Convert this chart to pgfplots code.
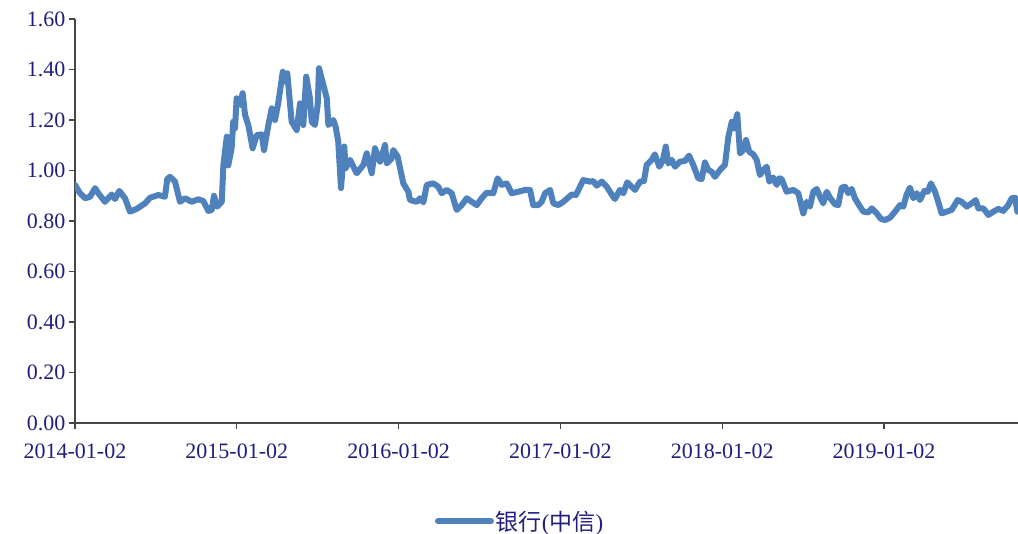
\documentclass[border=0pt]{standalone}
\usepackage{pgfplots}
\pgfplotsset{compat=1.18}
\usepackage{fontspec}
\setmainfont{Liberation Serif}
\newfontfamily\cjk{Noto Sans CJK SC}
\definecolor{navy}{RGB}{35,30,125}
\definecolor{lineblue}{RGB}{79,129,189}
\definecolor{axgray}{RGB}{70,70,70}
\begin{document}
\begin{tikzpicture}
\begin{axis}[
  scale only axis, width=943pt, height=404pt,
  xmin=0, xmax=5.828, ymin=0, ymax=1.6,
  axis x line=bottom, axis y line=left,
  axis line style={-, axgray, line width=1.2pt},
  xtick={0,1,2,3,4,5},
  xticklabels={2014-01-02,2015-01-02,2016-01-02,2017-01-02,2018-01-02,2019-01-02},
  ytick={0,0.2,0.4,0.6,0.8,1.0,1.2,1.4,1.6},
  yticklabels={0.00,0.20,0.40,0.60,0.80,1.00,1.20,1.40,1.60},
  tick align=outside, major tick length=6pt,
  tick style={axgray, line width=1.2pt},
  ticklabel style={font=\fontsize{22}{26}\selectfont, text=navy},
  xticklabel style={yshift=-11pt},
  legend style={at={(0.472,-0.243)}, anchor=center, draw=none, fill=none,
    font=\fontsize{23}{27}\selectfont, text=navy},
  legend image code/.code={\draw[#1, line width=6pt] (0pt,0pt) -- (53pt,0pt);},
]
\addplot[lineblue, line width=6pt, line join=round, line cap=round] coordinates {
(0,0.943) (0.031,0.91) (0.062,0.89) (0.093,0.896) (0.124,0.93) (0.144,0.91)
(0.185,0.876) (0.227,0.905) (0.247,0.887) (0.274,0.919) (0.309,0.89) (0.340,0.837)
(0.381,0.848) (0.433,0.87) (0.464,0.892) (0.515,0.903) (0.556,0.896) (0.570,0.966)
(0.587,0.975) (0.618,0.956) (0.649,0.876) (0.680,0.89) (0.721,0.876) (0.762,0.886)
(0.793,0.879) (0.824,0.84) (0.845,0.843) (0.859,0.9) (0.879,0.857) (0.907,0.876)
(0.917,1.02) (0.938,1.134) (0.947,1.02) (0.968,1.088) (0.978,1.193) (0.989,1.167)
(0.999,1.286) (1.020,1.26) (1.036,1.306) (1.051,1.22) (1.071,1.18) (1.098,1.088)
(1.123,1.14) (1.154,1.143) (1.168,1.081) (1.195,1.18) (1.216,1.246) (1.236,1.2)
(1.256,1.266) (1.284,1.391) (1.298,1.352) (1.312,1.385) (1.339,1.193) (1.370,1.16)
(1.391,1.266) (1.411,1.18) (1.429,1.372) (1.452,1.286) (1.463,1.193) (1.483,1.18)
(1.500,1.26) (1.508,1.405) (1.535,1.339) (1.556,1.286) (1.566,1.18) (1.596,1.2)
(1.611,1.173) (1.627,1.114) (1.644,0.93) (1.664,1.095) (1.673,1.009) (1.700,1.042)
(1.741,0.989) (1.782,1.022) (1.803,1.068) (1.834,0.989) (1.854,1.088) (1.885,1.035)
(1.916,1.101) (1.927,1.028) (1.957,1.048) (1.967,1.081) (1.994,1.055) (2.029,0.949)
(2.060,0.916) (2.070,0.883) (2.112,0.876) (2.132,0.89) (2.153,0.874) (2.174,0.943)
(2.214,0.949) (2.245,0.936) (2.266,0.91) (2.297,0.923) (2.328,0.91) (2.359,0.844)
(2.390,0.863) (2.421,0.89) (2.452,0.876) (2.483,0.863) (2.513,0.89) (2.544,0.912)
(2.585,0.91) (2.612,0.969) (2.637,0.943) (2.668,0.949) (2.699,0.91) (2.740,0.916)
(2.781,0.923) (2.812,0.923) (2.832,0.863) (2.863,0.863) (2.884,0.876) (2.905,0.91)
(2.936,0.923) (2.956,0.87) (2.987,0.863) (3.018,0.876) (3.070,0.905) (3.096,0.903)
(3.141,0.962) (3.183,0.956) (3.203,0.958) (3.224,0.94) (3.255,0.956) (3.286,0.936)
(3.317,0.905) (3.337,0.887) (3.368,0.923) (3.389,0.91) (3.413,0.953) (3.461,0.923)
(3.492,0.956) (3.516,0.958) (3.533,1.022) (3.564,1.042) (3.584,1.064) (3.611,1.015)
(3.632,1.038) (3.651,1.095) (3.667,1.028) (3.688,1.042) (3.708,1.015) (3.739,1.035)
(3.770,1.038) (3.795,1.059) (3.821,1.022) (3.852,0.969) (3.873,0.966) (3.893,1.032)
(3.914,1.002) (3.935,0.995) (3.955,0.975) (3.986,1.002) (4.017,1.022) (4.038,1.134)
(4.059,1.193) (4.073,1.167) (4.093,1.223) (4.110,1.068) (4.131,1.081) (4.147,1.121)
(4.167,1.074) (4.192,1.064) (4.213,1.042) (4.233,0.982) (4.254,1.002) (4.275,1.015)
(4.291,0.956) (4.315,0.972) (4.337,0.943) (4.353,0.969) (4.367,0.966) (4.398,0.916)
(4.439,0.923) (4.470,0.91) (4.501,0.83) (4.522,0.876) (4.542,0.857) (4.563,0.916)
(4.584,0.927) (4.604,0.896) (4.624,0.87) (4.646,0.916) (4.666,0.892) (4.697,0.866)
(4.717,0.863) (4.738,0.932) (4.759,0.936) (4.779,0.91) (4.800,0.927) (4.820,0.89)
(4.851,0.857) (4.872,0.837) (4.903,0.834) (4.924,0.85) (4.955,0.83) (4.981,0.808)
(5.006,0.804) (5.037,0.813) (5.068,0.837) (5.099,0.863) (5.119,0.857) (5.140,0.905)
(5.160,0.932) (5.181,0.89) (5.202,0.91) (5.222,0.883) (5.249,0.919) (5.270,0.916)
(5.290,0.949) (5.315,0.916) (5.335,0.876) (5.356,0.83) (5.387,0.837) (5.418,0.844)
(5.455,0.883) (5.480,0.876) (5.511,0.857) (5.542,0.87) (5.567,0.883) (5.583,0.85)
(5.614,0.85) (5.645,0.824) (5.676,0.837) (5.707,0.848) (5.737,0.84) (5.768,0.863)
(5.789,0.89) (5.810,0.892) (5.824,0.837)
};
\addlegendentry{{\cjk 银行}({\cjk 中信})}
\end{axis}
\pgfresetboundingbox
\path (current axis.south west) ++(-75pt,-111pt) rectangle ++(1018pt,534pt);
\end{tikzpicture}
\end{document}
